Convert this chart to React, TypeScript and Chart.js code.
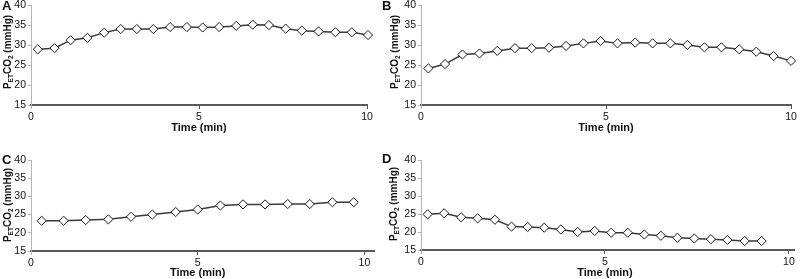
import React, { useEffect, useRef } from "react";
import { Chart, registerables } from "chart.js";

Chart.register(...registerables);

// ---- data ----
const timeA = [0.2, 0.7, 1.18, 1.68, 2.18, 2.67, 3.15, 3.64, 4.14, 4.64, 5.11, 5.6, 6.11, 6.6, 7.08, 7.58, 8.06, 8.56, 9.06, 9.55, 10.03];
const petco2A = [29.0, 29.3, 31.3, 31.9, 33.2, 34.1, 34.1, 34.1, 34.6, 34.6, 34.5, 34.6, 34.9, 35.2, 35.1, 34.2, 33.7, 33.5, 33.3, 33.3, 32.6];

const timeB = [0.2, 0.65, 1.12, 1.58, 2.06, 2.54, 2.99, 3.46, 3.92, 4.39, 4.85, 5.31, 5.79, 6.26, 6.74, 7.2, 7.66, 8.12, 8.6, 9.06, 9.53, 10.0];
const petco2B = [24.2, 25.3, 27.7, 27.95, 28.6, 29.3, 29.3, 29.4, 29.85, 30.5, 31.1, 30.5, 30.7, 30.5, 30.5, 30.1, 29.5, 29.5, 29.0, 28.4, 27.3, 26.1];

const timeC = [0.32, 0.98, 1.64, 2.32, 3.0, 3.64, 4.34, 5.0, 5.68, 6.36, 7.02, 7.7, 8.36, 9.04, 9.68];
const petco2C = [23.3, 23.3, 23.5, 23.7, 24.4, 25.0, 25.7, 26.4, 27.5, 27.8, 27.8, 27.9, 27.9, 28.4, 28.4];

const timeD = [0.18, 0.63, 1.09, 1.54, 2.01, 2.46, 2.9, 3.35, 3.8, 4.26, 4.72, 5.17, 5.62, 6.07, 6.52, 6.97, 7.43, 7.88, 8.33, 8.8, 9.26];
const petco2D = [24.9, 25.2, 24.1, 23.8, 23.4, 21.5, 21.4, 21.2, 20.7, 20.0, 20.3, 19.8, 19.8, 19.3, 18.95, 18.4, 18.2, 18.0, 17.8, 17.5, 17.5];

const xTickValues = [0, 5, 10];
const yTickValues = [15, 20, 25, 30, 35, 40];
const xAxisTitle = "Time (min)";
const yTitleParts = [
  { text: "P", sub: false },
  { text: "ET", sub: true },
  { text: "CO", sub: false },
  { text: "2", sub: true },
  { text: " (mmHg)", sub: false },
];

const FONT = '"Liberation Sans", Arial, Helvetica, sans-serif';

type PanelCfg = {
  letter: string;
  xs: number[];
  ys: number[];
  left: number;
  top: number;
  w: number;
  h: number;
  area: { l: number; t: number; r: number; b: number };
  xMax: number;
  xTitleOffset: number;
  yTitleCenter: { x: number; y: number };
  letterBase: number;
};

const panels: PanelCfg[] = [
  { letter: "A", xs: timeA, ys: petco2A, left: 0, top: 0, w: 380, h: 140, area: { l: 31, t: 4, r: 367, b: 105 }, xMax: 10, xTitleOffset: 23, yTitleCenter: { x: 7, y: 52 }, letterBase: 10 },
  { letter: "B", xs: timeB, ys: petco2B, left: 380, top: 0, w: 420, h: 140, area: { l: 41, t: 4, r: 411, b: 105 }, xMax: 10, xTitleOffset: 23, yTitleCenter: { x: 14, y: 52 }, letterBase: 10 },
  { letter: "C", xs: timeC, ys: petco2C, left: 0, top: 140, w: 380, h: 139, area: { l: 31, t: 20, r: 378, b: 111 }, xMax: 10.3, xTitleOffset: 22, yTitleCenter: { x: 7, y: 65 }, letterBase: 24 },
  { letter: "D", xs: timeD, ys: petco2D, left: 380, top: 140, w: 420, h: 139, area: { l: 41, t: 20, r: 415, b: 110 }, xMax: 10.15, xTitleOffset: 23, yTitleCenter: { x: 13.5, y: 64 }, letterBase: 23 },
];

function drawYTitle(ctx: CanvasRenderingContext2D, cx: number, cy: number) {
  const big = `bold 10px ${FONT}`;
  const small = `bold 6.5px ${FONT}`;
  ctx.save();
  ctx.translate(cx, cy);
  ctx.rotate(-Math.PI / 2);
  ctx.fillStyle = "#111";
  ctx.textBaseline = "alphabetic";
  ctx.textAlign = "left";
  let total = 0;
  const widths = yTitleParts.map((p) => {
    ctx.font = p.sub ? small : big;
    const w = ctx.measureText(p.text).width;
    total += w;
    return w;
  });
  let x = -total / 2;
  yTitleParts.forEach((p, i) => {
    ctx.font = p.sub ? small : big;
    ctx.fillText(p.text, x, p.sub ? 5.5 : 3.6);
    x += widths[i];
  });
  ctx.restore();
}

function Panel({ cfg }: { cfg: PanelCfg }) {
  const ref = useRef<HTMLCanvasElement | null>(null);
  useEffect(() => {
    if (!ref.current) return;
    const c = cfg;
    const decor = {
      id: "decor" + c.letter,
      afterDraw(chart: any) {
        const ctx = chart.ctx as CanvasRenderingContext2D;
        const xs = chart.scales.x;
        ctx.save();
        ctx.font = `bold 13px ${FONT}`;
        ctx.fillStyle = "#111";
        ctx.textAlign = "left";
        ctx.textBaseline = "alphabetic";
        ctx.fillText(c.letter, 2, c.letterBase);
        ctx.font = `bold 11px ${FONT}`;
        ctx.textAlign = "center";
        ctx.textBaseline = "middle";
        ctx.fillText(xAxisTitle, xs.getPixelForValue(5), c.area.b + c.xTitleOffset);
        ctx.restore();
        drawYTitle(ctx, c.yTitleCenter.x, c.yTitleCenter.y);
      },
    };
    const chart = new Chart(ref.current, {
      type: "line",
      data: {
        datasets: [
          {
            data: c.xs.map((x, i) => ({ x, y: c.ys[i] })),
            borderColor: "#3a3a3a",
            borderWidth: 1.5,
            pointStyle: "rectRot",
            pointRadius: 4.6,
            pointBackgroundColor: "#ffffff",
            pointBorderColor: "#1a1a1a",
            pointBorderWidth: 1,
            tension: 0,
            clip: false as any,
          },
        ],
      },
      options: {
        responsive: false,
        animation: false,
        events: [],
        layout: { padding: { left: 0, top: c.area.t, right: c.w - c.area.r, bottom: 0 } },
        plugins: { legend: { display: false }, tooltip: { enabled: false }, title: { display: false } },
        scales: {
          x: {
            type: "linear",
            min: 0,
            max: c.xMax,
            afterBuildTicks: (s: any) => {
              s.ticks = xTickValues.map((v) => ({ value: v }));
            },
            afterFit: (s: any) => {
              s.height = c.h - c.area.b;
              s.paddingLeft = 0;
              s.paddingRight = 0;
            },
            border: { display: true, color: "#5a5a5a", width: 2 },
            grid: {
              display: true,
              drawOnChartArea: false,
              drawTicks: true,
              tickLength: 4,
              color: (ctx: any) => (ctx.index === 0 ? "#b0b0b0" : "#5a5a5a"),
              lineWidth: 1,
            },
            ticks: {
              autoSkip: false,
              maxRotation: 0,
              padding: 2,
              color: "#111",
              font: { family: FONT, size: 10.5 },
              callback: (v: any) => String(v),
            },
          },
          y: {
            type: "linear",
            min: 15,
            max: 40,
            afterBuildTicks: (s: any) => {
              s.ticks = yTickValues.map((v) => ({ value: v }));
            },
            afterFit: (s: any) => {
              s.width = c.area.l;
              s.paddingTop = 0;
              s.paddingBottom = 0;
            },
            border: { display: true, color: "#b5b5b5", width: 1 },
            grid: {
              display: true,
              drawOnChartArea: false,
              drawTicks: true,
              tickLength: 3,
              color: "#b5b5b5",
              lineWidth: 1,
            },
            ticks: {
              padding: 2,
              color: "#111",
              font: { family: FONT, size: 10.5 },
              callback: (v: any) => String(v),
            },
          },
        },
      },
      plugins: [decor],
    } as any);
    return () => chart.destroy();
  }, [cfg]);
  return (
    <div style={{ position: "absolute", left: cfg.left, top: cfg.top, width: cfg.w, height: cfg.h }}>
      <canvas ref={ref} width={cfg.w} height={cfg.h} style={{ width: cfg.w, height: cfg.h, display: "block" }} />
    </div>
  );
}

export default function App() {
  return (
    <div style={{ position: "absolute", left: 0, top: 0, width: 800, height: 279, background: "#ffffff", overflow: "hidden" }}>
      {panels.map((p) => (
        <Panel key={p.letter} cfg={p} />
      ))}
    </div>
  );
}
